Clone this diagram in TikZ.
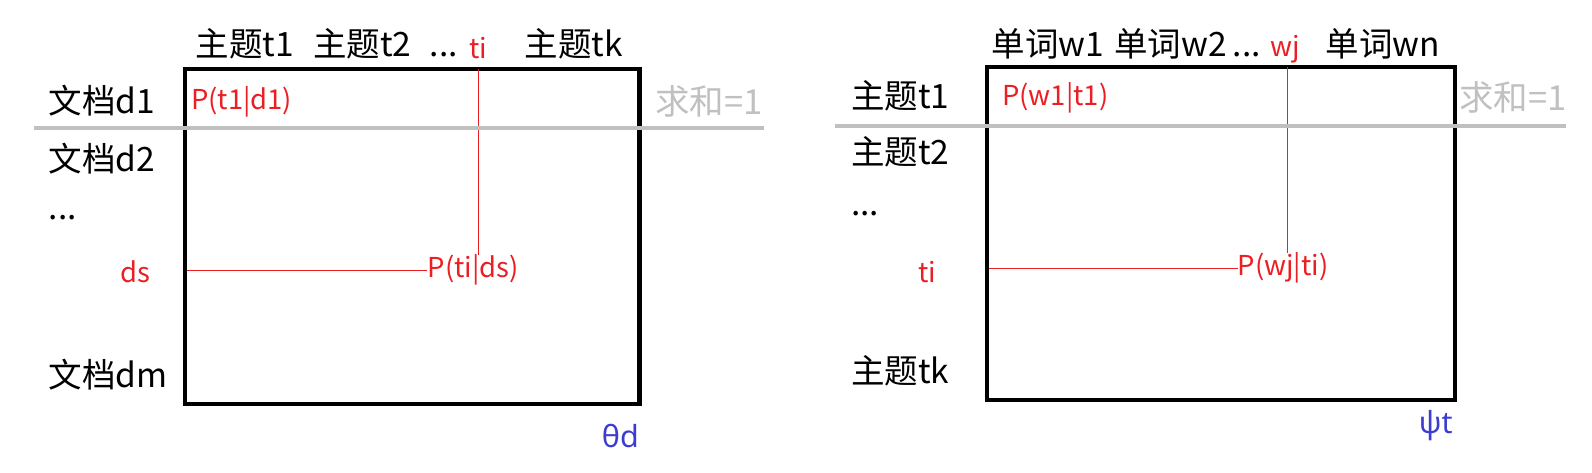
\documentclass[tikz,border=0pt]{standalone}
\usepackage{fontspec}
\setmainfont{Noto Sans CJK SC}
\newfontfamily\greekfont{Noto Sans}
\definecolor{pred}{RGB}{235,30,35}
\definecolor{pblue}{RGB}{60,60,210}
\definecolor{sumgray}{RGB}{192,192,192}

\begin{document}
\begin{tikzpicture}[x=1pt, y=-1pt, every node/.style={font=\fontsize{33}{38}\selectfont, inner sep=0pt},
  redlbl/.style={text=pred, font=\fontsize{27}{31}\selectfont},
  sumlbl/.style={text=sumgray, font=\fontsize{34}{38}\selectfont, anchor=base west},
  greeklbl/.style={text=pblue, font=\fontsize{30}{34}\selectfont\greekfont, anchor=base},
  matbox/.style={line width=4.5pt},
  sumline/.style={draw=sumgray, line width=4pt},
  redline/.style={draw=pred, line width=0.8pt}]
  \useasboundingbox (0,0) rectangle (1568,465);

  % 左图: 文档-主题矩阵
  \draw[matbox] (182,68) rectangle (630,398);

  % 列标题
  \node[anchor=base] (lt1) at (241,56) {主题t1};
  \node[anchor=base] (lt2) at (357,56) {主题t2};
  \node[anchor=base] (ldots) at (437,56) {...};
  \node[redlbl, anchor=base] (lti) at (471,58) {ti};
  \node[anchor=base] (ltk) at (565,56) {主题tk};

  % 行标题
  \node[anchor=base west] (ld1) at (48,112) {文档d1};
  \node[anchor=base west] (ld2) at (48,169) {文档d2};
  \node[anchor=base west] (lrdots) at (48,216) {...};
  \node[redlbl, anchor=base] (lds) at (133,278) {ds};
  \node[anchor=base west] (ldm) at (48,382) {文档dm};

  % 矩阵元素
  \node[redlbl, anchor=base west] (lp11) at (188,108) {P(t1|d1)};
  \node[redlbl, anchor=west] (lpis) at (421,266) {P(ti|ds)};
  \coordinate (lvtop) at (471,68);
  \coordinate (lhleft) at (184,266);
  \draw[redline] (lvtop) -- (lvtop |- lpis.north);
  \draw[redline] (lhleft) -- (lpis.west);

  % 行和为1
  \draw[sumline] (33,126) -- (752,126);
  \node[sumlbl] (lsum) at (645,113) {求和=1};
  \node[greeklbl] (ltheta) at (611,441) {θd};

  % 右图: 主题-单词矩阵
  \draw[matbox] (972,66) rectangle (1433,394);

  % 列标题
  \node[anchor=base] (rw1) at (1032,56) {单词w1};
  \node[anchor=base] (rw2) at (1153,56) {单词w2};
  \node[anchor=base] (rdots) at (1228,56) {...};
  \node[redlbl, anchor=base] (rwj) at (1266,56) {wj};
  \node[anchor=base] (rwn) at (1362,56) {单词wn};

  % 行标题
  \node[anchor=base west] (rt1) at (838,107) {主题t1};
  \node[anchor=base west] (rt2) at (838,162) {主题t2};
  \node[anchor=base west] (rrdots) at (838,212) {...};
  \node[redlbl, anchor=base] (rti) at (913,278) {ti};
  \node[anchor=base west] (rtk) at (838,378) {主题tk};

  % 矩阵元素
  \node[redlbl, anchor=base west] (rp11) at (987,104) {P(w1|t1)};
  \node[redlbl, anchor=west] (rpji) at (1219,264) {P(wj|ti)};
  \coordinate (rvtop) at (1268,66);
  \coordinate (rhleft) at (974,264);
  \draw[redline] (rvtop) -- (rvtop |- rpji.north);
  \draw[redline] (rhleft) -- (rpji.west);

  % 行和为1
  \draw[sumline] (822,124) -- (1542,124);
  \node[sumlbl] (rsum) at (1437,109) {求和=1};
  \node[greeklbl] (rpsi) at (1414,427) {ψt};
\end{tikzpicture}
\end{document}
